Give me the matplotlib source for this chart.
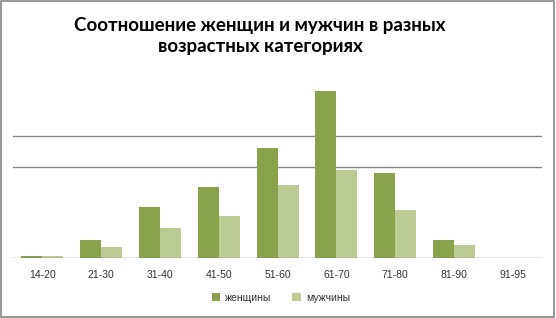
import matplotlib.pyplot as plt
import numpy as np
from matplotlib.patches import Rectangle

categories = ["14-20", "21-30", "31-40", "41-50", "51-60", "61-70", "71-80", "81-90", "91-95"]
women = [0.7, 5.9, 16.7, 23.3, 36.0, 54.8, 27.9, 5.9, 0]
men = [0.7, 3.6, 9.8, 13.8, 23.9, 28.9, 15.7, 4.3, 0]
gridlines = [30, 40]

fig = plt.figure(figsize=(5.56, 3.18), dpi=100)
ax = fig.add_axes([0.0234, 0.1887, 0.9516, 0.575])

x = np.arange(len(categories))
w = 0.357
ax.bar(x - w / 2, women, width=w, color="#8AA24B", label="женщины", zorder=3)
ax.bar(x + w / 2, men, width=w, color="#BCCA94", label="мужчины", zorder=3)

for g in gridlines:
    ax.axhline(g, color="#868686", lw=1, zorder=1)
ax.axhline(0, color="#868686", lw=1, zorder=4)

ax.set_xlim(-0.5, len(categories) - 0.5)
ax.set_ylim(0, 60)
ax.set_yticks([])
ax.set_xticks(x)
ax.set_xticklabels(categories, fontsize=7.5, color="#303030", family="Liberation Sans")
ax.tick_params(axis="x", length=0, pad=9)
for s in ax.spines.values():
    s.set_visible(False)

fig.text(0.468, 0.887, "Соотношение женщин и мужчин в разных\nвозрастных категориях",
         ha="center", va="center", fontsize=13.5, fontweight="bold",
         family="Lato", linespacing=1.3)

leg = fig.legend(loc="center", bbox_to_anchor=(0.505, 0.063), ncol=2, frameon=False,
                 prop={"family": "Liberation Sans", "size": 7.5},
                 handlelength=0.8, handleheight=0.8, columnspacing=2.0, handletextpad=0.5)
for t in leg.get_texts():
    t.set_color("#303030")

fig.patches.append(Rectangle((0.002, 0.004), 0.994, 0.992, transform=fig.transFigure,
                             fill=False, edgecolor="#868686", lw=1.2))

fig.savefig("out.png", dpi=100)
